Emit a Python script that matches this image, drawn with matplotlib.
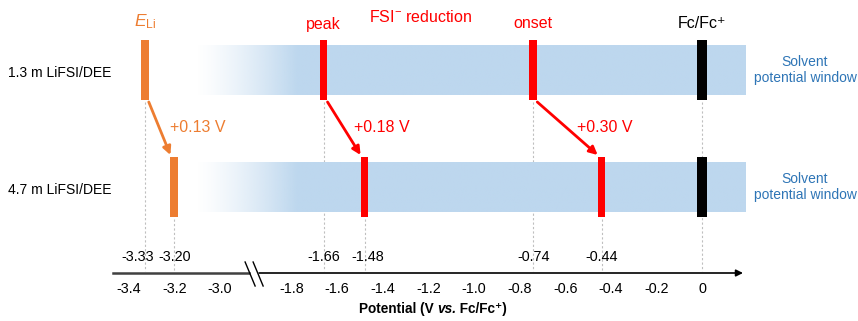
import numpy as np
import matplotlib.pyplot as plt
from matplotlib.offsetbox import TextArea, HPacker, AnnotationBbox

plt.rcParams['font.family'] = ['Liberation Sans', 'DejaVu Sans']
plt.rcParams['mathtext.fontset'] = 'custom'
plt.rcParams['mathtext.rm'] = 'Liberation Sans'
plt.rcParams['mathtext.it'] = 'Liberation Sans:italic'

# data
rows = ["1.3 m LiFSI/DEE", "4.7 m LiFSI/DEE"]
e_li = [-3.33, -3.20]
peak = [-1.66, -1.48]
onset = [-0.74, -0.44]
fc = [0.0, 0.0]
shift_labels = ["+0.13 V", "+0.18 V", "+0.30 V"]
ticks_left = [-3.4, -3.2, -3.0]
ticks_right = [-1.8, -1.6, -1.4, -1.2, -1.0, -0.8, -0.6, -0.4, -0.2, 0.0]
band_start, band_full, band_end = -3.11, -1.78, 0.19

ORANGE = '#ED7D31'
RED = '#FF0000'
BLUE = '#2E75B6'

S = 228.0          # px per volt
GAP = 0.886        # compression of the broken axis


def m(v):
    # map potential onto the broken axis
    return v + GAP if v < -2.5 else v


fig = plt.figure(figsize=(8.58, 3.21), dpi=100)
ax = fig.add_axes([0, 0, 1, 1])
ax.set_xlim(-702 / S, 156 / S)
ax.set_ylim(321, 0)
ax.axis('off')

row_y = [70, 187]
band_h = 50
bar_h = 60

# solvent window bands with faded left end
rgb = np.array([0xBD, 0xD7, 0xEE]) / 255
for y in row_y:
    x0, x1, x2 = m(band_start), m(band_full), band_end
    n = 200
    alpha = np.clip((np.linspace(x0, x2, n) - x0) / (x1 - x0), 0, 1) ** 1.3
    img = np.zeros((1, n, 4))
    img[..., :3] = rgb
    img[0, :, 3] = alpha
    ax.imshow(img, extent=[x0, x2, y + band_h / 2, y - band_h / 2],
              aspect='auto', interpolation='bilinear', zorder=1)

# marker bars
bw = 8 / S
for i, y in enumerate(row_y):
    ax.bar(m(e_li[i]), bar_h, bottom=y - bar_h / 2, width=bw, color=ORANGE, zorder=3)
    ax.bar(peak[i], bar_h, bottom=y - bar_h / 2, width=bw * 0.95, color=RED, zorder=3)
    ax.bar(onset[i], bar_h, bottom=y - bar_h / 2, width=bw * 0.95, color=RED, zorder=3)
    ax.bar(fc[i], bar_h, bottom=y - bar_h / 2, width=bw * 1.15, color='black', zorder=3)

# dotted guide lines and value labels
axis_y = 273
guides = [(m(e_li[0]), row_y[0]), (m(e_li[1]), row_y[1]),
          (peak[0], row_y[0]), (peak[1], row_y[1]),
          (onset[0], row_y[0]), (onset[1], row_y[1]),
          (fc[0], row_y[0])]
for x, y in guides:
    ax.plot([x, x], [y + bar_h / 2 + 2, axis_y - 2], ls=(0, (2, 2)),
            color='#BFBFBF', lw=0.8, zorder=0)
label_nudge = {-3.33: -7, -1.48: 3}
for v in e_li + peak + onset:
    ax.annotate(f"{v:.2f}", (m(v), 257), xytext=(label_nudge.get(v, 0) * 0.72, 0),
                textcoords='offset points', ha='center', va='center', fontsize=10.4)

# shift arrows
pairs = [(e_li, ORANGE, 0), (peak, RED, 1), (onset, RED, 2)]
for vals, c, k in pairs:
    x0, x1 = m(vals[0]) + 4 / S, m(vals[1]) - 4 / S
    ax.annotate('', xy=(x1, row_y[1] - bar_h / 2 - 2), xytext=(x0, row_y[0] + bar_h / 2 + 2),
                arrowprops=dict(arrowstyle='-|>', color=c, lw=2, mutation_scale=12,
                                shrinkA=0, shrinkB=0), zorder=4)
    ax.text((x0 + x1) / 2 + 10 / S, 128, shift_labels[k], color=c,
            ha='left', va='center', fontsize=11.5)

# top labels
ax.text(m(e_li[0]), 22, r'$\mathit{E}_{\mathrm{Li}}$', color=ORANGE, ha='center', va='center', fontsize=12.5)
ax.text(peak[0], 24, 'peak', color=RED, ha='center', va='center', fontsize=11.5)
ax.text(onset[0], 24, 'onset', color=RED, ha='center', va='center', fontsize=11.5)
ax.text(fc[0], 24, 'Fc/Fc\u207a', color='black', ha='center', va='center', fontsize=11.5)
ax.text((peak[0] + onset[0]) / 2 - 0.035, 17, 'FSI$^{-}$ reduction', color=RED,
        ha='center', va='center', fontsize=11.5)

# row labels and solvent window labels
for i, y in enumerate(row_y):
    ax.text(-642 / S, y + 3, rows[i], ha='center', va='center', fontsize=10)
    ax.text(103 / S, y, 'Solvent\npotential window', color=BLUE, ha='center',
            va='center', fontsize=10, linespacing=1.25)

# broken potential axis
brk = -1.96
ax.plot([-589 / S, brk - 6 / S], [axis_y, axis_y], color='#404040', lw=1.8, zorder=2)
ax.annotate('', xy=(743 / S - 702 / S, axis_y), xytext=(brk + 4 / S, axis_y),
            arrowprops=dict(arrowstyle='-|>', color='black', lw=1.2, mutation_scale=10,
                            shrinkA=0, shrinkB=0))
for dx in (-5 / S, 3 / S):
    ax.plot([brk + dx - 5 / S, brk + dx + 5 / S], [axis_y - 11, axis_y + 13],
            color='black', lw=1.0, zorder=3)
for v in ticks_left + ticks_right:
    lab = '0' if v == 0 else f"{v:.1f}"
    ax.text(m(v), 289, lab, ha='center', va='center', fontsize=10.4)

# axis title with italic "vs."
parts = [TextArea('Potential (V ', textprops=dict(fontsize=9.8, fontweight='bold')),
         TextArea('vs.', textprops=dict(fontsize=9.8, fontweight='bold', fontstyle='italic')),
         TextArea(' Fc/Fc\u207a)', textprops=dict(fontsize=9.8, fontweight='bold'))]
box = HPacker(children=parts, align='baseline', pad=0, sep=0)
ab = AnnotationBbox(box, (-269 / S, 309), frameon=False, box_alignment=(0.5, 0.5))
ax.add_artist(ab)

fig.savefig('out.png', dpi=100)
